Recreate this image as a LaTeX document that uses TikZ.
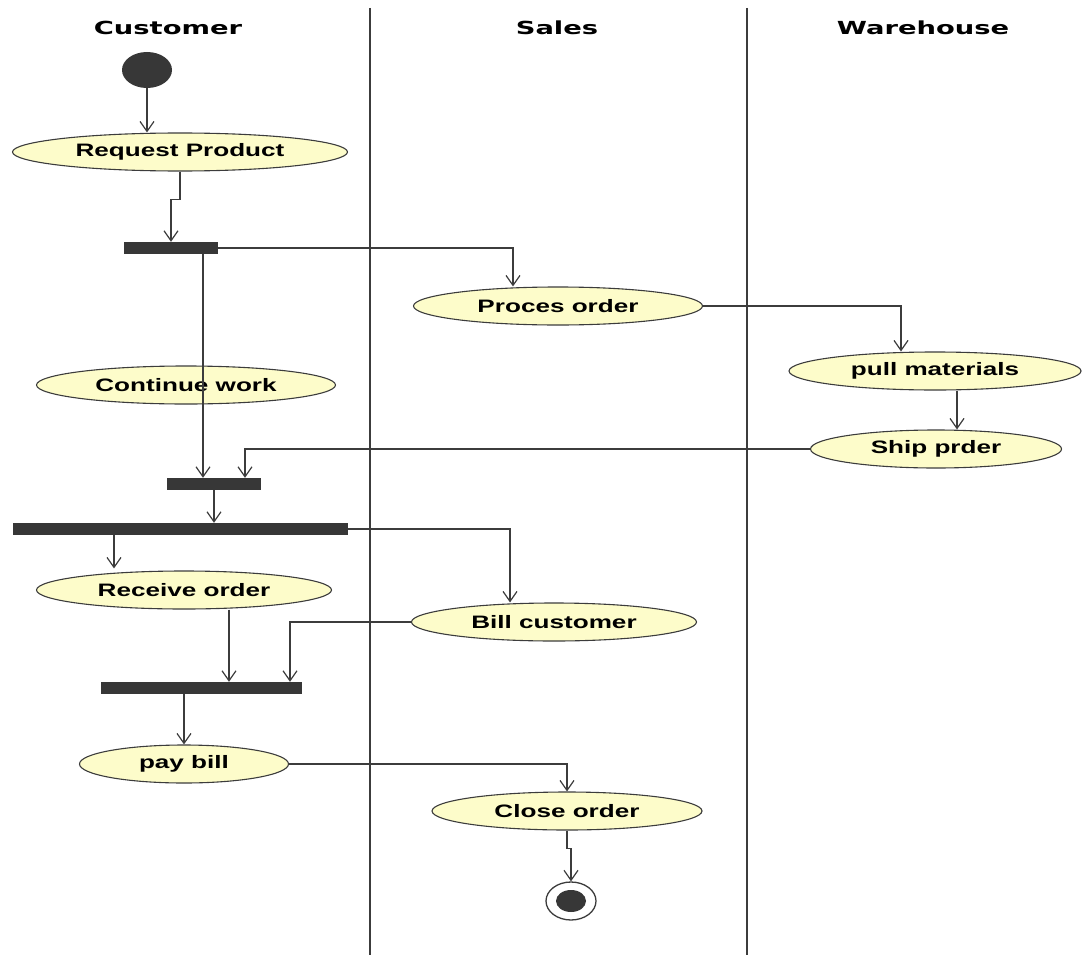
\documentclass[tikz,border=0pt]{standalone}
\usepackage{fontspec}
\usepackage{tikz}
\usetikzlibrary{arrows.meta}
\usetikzlibrary{shapes.geometric}
\newfontfamily\lanefont[FakeStretch=1.52]{DejaVu Sans}
\newfontfamily\actfont[FakeStretch=1.45]{Liberation Sans}
\definecolor{actfill}{RGB}{253,252,202}
\definecolor{wire}{RGB}{60,60,60}
\definecolor{barfill}{RGB}{55,55,55}

\begin{document}
\begin{tikzpicture}[
    x=1pt, y=-1pt,
    lane line/.style={draw=wire, line width=1.4pt},
    lane title/.style={font=\lanefont\bfseries\fontsize{18}{20}\selectfont},
    action/.style={ellipse, draw=wire, line width=1.1pt, fill=actfill, inner sep=0pt,
                   minimum height=38pt, font=\actfont\bfseries\fontsize{18}{20}\selectfont},
    bar/.style={rectangle, fill=barfill, inner sep=0pt, minimum height=12pt},
    flow/.style={draw=wire, line width=1.2pt, -{Straight Barb[length=10pt,width=14pt]}}
    ]
    \useasboundingbox (0,0) rectangle (1089,955);

    % lanes
    \draw[lane line] (370,8) -- (370,955);
    \draw[lane line] (747,8) -- (747,955);
    \node[lane title] (customer) at (168,28) {Customer};
    \node[lane title] (sales) at (557,28) {Sales};
    \node[lane title] (warehouse) at (923,28) {Warehouse};

    % start and end
    \node[ellipse, fill=barfill, minimum width=50pt, minimum height=36pt, inner sep=0pt] (start) at (147,70) {};
    \node[ellipse, draw=wire, line width=1.3pt, fill=white, minimum width=50pt, minimum height=38pt, inner sep=0pt] (stop) at (571,901) {};
    \node[ellipse, fill=barfill, minimum width=30pt, minimum height=22pt, inner sep=0pt] at (stop) {};

    % actions
    \node[action, minimum width=335pt] (request) at (180,152) {Request Product};
    \node[action, minimum width=289pt] (process) at (558,306) {Proces order};
    \node[action, minimum width=299pt] (work) at (186,385) {Continue work};
    \node[action, minimum width=292pt] (pull) at (935,371) {pull materials};
    \node[action, minimum width=251pt] (ship) at (936,449) {Ship prder};
    \node[action, minimum width=295pt] (receive) at (184,590) {Receive order};
    \node[action, minimum width=285pt] (bill) at (554,622) {Bill customer};
    \node[action, minimum width=209pt] (pay) at (184,764) {pay bill};
    \node[action, minimum width=270pt] (close) at (567,811) {Close order};

    % forks and joins
    \node[bar, minimum width=94pt] (fork1) at (171,248) {};
    \node[bar, minimum width=94pt] (join1) at (214,484) {};
    \node[bar, minimum width=335pt] (fork2) at (180,529) {};
    \node[bar, minimum width=201pt] (join2) at (201,688) {};

    % flows
    \draw[flow] (start) -- (start |- request.north);
    \draw[flow] (request.south) -- ++(0,28) -| (fork1.north);
    \draw[flow] (fork1.east) -| ([xshift=-45pt]process.north);
    \draw[flow] ([xshift=32pt]fork1.south) -- ([xshift=32pt]fork1.south |- join1.north);
    \draw[flow] (process.east) -| ([xshift=-34pt]pull.north);
    \draw[flow] ([xshift=22pt]pull.south) -- ([xshift=22pt]pull.south |- ship.north);
    \draw[flow] (ship.west) -| ([xshift=31pt]join1.north);
    \draw[flow] (join1.south) -- (join1.south |- fork2.north);
    \draw[flow] ([xshift=-66pt]fork2.south) -- ([xshift=-66pt,yshift=2pt]fork2.south |- receive.north);
    \draw[flow] (fork2.east) -| ([xshift=-44pt]bill.north);
    \draw[flow] ([xshift=45pt]receive.south) -- ([xshift=45pt]receive.south |- join2.north);
    \draw[flow] (bill.west) -| ([xshift=89pt]join2.north);
    \draw[flow] (join2.south -| pay.north) -- (pay.north);
    \draw[flow] (pay.east) -| (close.north);
    \draw[flow] (close.south) -- ++(0,18) -| (stop.north);
\end{tikzpicture}
\end{document}
